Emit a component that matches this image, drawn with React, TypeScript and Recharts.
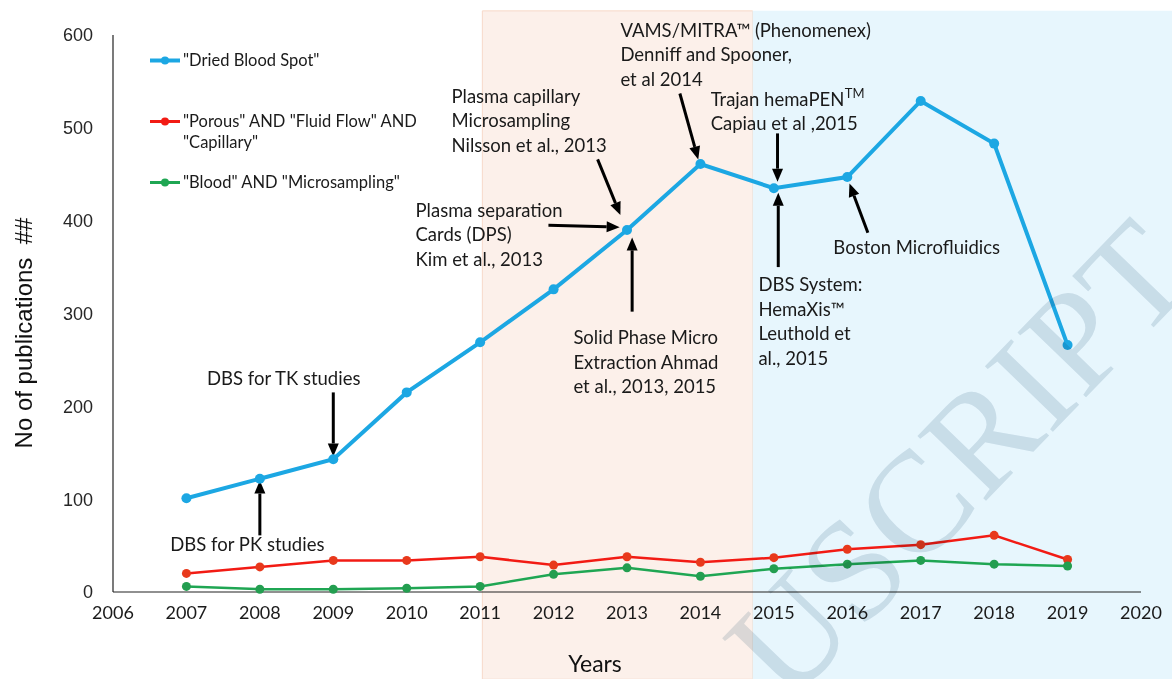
import React from "react";
import {
  LineChart,
  Line,
  XAxis,
  YAxis,
  ReferenceArea,
  ReferenceLine,
  ReferenceDot,
} from "recharts";

// publications per year
const years = [2007, 2008, 2009, 2010, 2011, 2012, 2013, 2014, 2015, 2016, 2017, 2018, 2019];
const driedBloodSpot = [101, 122, 143, 215, 269, 326, 390, 461, 435, 447, 529, 483, 266];
const porousFluidCapillary = [20, 27, 34, 34, 38, 29, 38, 32, 37, 46, 51, 61, 35];
const bloodMicrosampling = [6, 3, 3, 4, 6, 19, 26, 17, 25, 30, 34, 30, 28];

const xTicks = [2006, 2007, 2008, 2009, 2010, 2011, 2012, 2013, 2014, 2015, 2016, 2017, 2018, 2019, 2020];
const yTicks = [0, 100, 200, 300, 400, 500, 600];

const seriesNames = [
  '"Dried Blood Spot"',
  '"Porous" AND "Fluid Flow" AND "Capillary"',
  '"Blood" AND "Microsampling"',
];

// annotation labels (x in years, y in publications = left edge / first baseline)
const notes = [
  { x: 2006.78, y: 44, lines: ["DBS for PK studies"] },
  { x: 2007.28, y: 223, lines: ["DBS for TK studies"] },
  { x: 2010.12, y: 404, lines: ["Plasma separation", "Cards (DPS)", "Kim et al., 2013"] },
  { x: 2010.61, y: 527, lines: ["Plasma capillary", "Microsampling", "Nilsson et al., 2013"] },
  { x: 2012.27, y: 267, lines: ["Solid Phase Micro", "Extraction Ahmad", "et al., 2013, 2015"] },
  { x: 2012.91, y: 598, lines: ["VAMS/MITRA\u2122 (Phenomenex)", "Denniff and Spooner,", "et al 2014"] },
  { x: 2014.14, y: 524, lines: ["Trajan hemaPEN", "Capiau et al ,2015"], tm: true },
  { x: 2014.79, y: 324, lines: ["DBS System:", "HemaXis\u2122", "Leuthold et", "al., 2015"] },
  { x: 2015.81, y: 364, lines: ["Boston Microfluidics"] },
];

// arrows: tail -> head
const arrows = [
  { x1: 2008, y1: 61, x2: 2008, y2: 120 },
  { x1: 2009, y1: 215, x2: 2009, y2: 146 },
  { x1: 2011.93, y1: 395, x2: 2012.9, y2: 393 },
  { x1: 2012.6, y1: 466, x2: 2012.91, y2: 406 },
  { x1: 2013.07, y1: 302, x2: 2013.07, y2: 382 },
  { x1: 2013.72, y1: 537, x2: 2013.97, y2: 466 },
  { x1: 2015.05, y1: 494, x2: 2015.05, y2: 442 },
  { x1: 2015.06, y1: 350, x2: 2015.06, y2: 430 },
  { x1: 2016.28, y1: 387, x2: 2016.03, y2: 440 },
];

const data = years.map((year, i) => ({
  year,
  dbs: driedBloodSpot[i],
  porous: porousFluidCapillary[i],
  micro: bloodMicrosampling[i],
}));

const BLUE = "#1ca7e3";
const RED = "#f21b14";
const GREEN = "#1fa653";
const NOTE_FONT = "Lato, 'Open Sans', sans-serif";

const arrowShape = (p: any) => {
  const { x1, y1, x2, y2 } = p;
  const ang = Math.atan2(y2 - y1, x2 - x1);
  const head = 13;
  const half = 5.5;
  const bx = x2 - head * Math.cos(ang);
  const by = y2 - head * Math.sin(ang);
  const px = -Math.sin(ang) * half;
  const py = Math.cos(ang) * half;
  return (
    <g>
      <line x1={x1} y1={y1} x2={bx} y2={by} stroke="#000" strokeWidth={3} />
      <polygon points={`${x2},${y2} ${bx + px},${by + py} ${bx - px},${by - py}`} fill="#000" />
    </g>
  );
};

const noteShape = (lines: string[], tm?: boolean) => (p: any) => (
  <text x={p.cx} y={p.cy} fontFamily={NOTE_FONT} fontSize={18.5} fill="#1a1a1a">
    {lines.map((l, i) => (
      <tspan key={i} x={p.cx} dy={i === 0 ? 0 : 24.5}>
        {l}
      </tspan>
    ))}
    {tm && (
      <tspan x={p.cx + 134} y={p.cy - 8} fontSize={13}>
        TM
      </tspan>
    )}
  </text>
);

function SeriesLegend() {
  const colors = [BLUE, RED, GREEN];
  const tops = [0, 61, 122];
  return (
    <div style={{ position: "absolute", left: 149, top: 50, width: 290, height: 150 }}>
      {seriesNames.map((name, i) => (
        <div key={name} style={{ position: "absolute", left: 0, top: tops[i], display: "flex" }}>
          <svg width={34} height={21} style={{ flex: "none" }}>
            <line x1={1} y1={10.5} x2={31} y2={10.5} stroke={colors[i]} strokeWidth={i === 0 ? 4 : 3} />
            <circle cx={16} cy={10.5} r={4} fill={colors[i]} />
          </svg>
          <span
            style={{
              fontFamily: NOTE_FONT,
              fontSize: 16.5,
              lineHeight: "21px",
              color: "#1a1a1a",
              width: 240,
            }}
          >
            {name}
          </span>
        </div>
      ))}
    </div>
  );
}

const YTitle = () => {
  const cx = 23;
  const cy = 333;
  return (
    <text
      x={cx}
      y={cy}
      transform={`rotate(-90, ${cx}, ${cy})`}
      textAnchor="middle"
      dominantBaseline="central"
      fontFamily="'Liberation Sans', Arial, sans-serif"
      fontSize={24}
      fill="#111"
    >
      {"No of publications\u00a0 ##"}
    </text>
  );
};

const XTitle = (p: any) => {
  const vb = p.viewBox || { x: 113, y: 592, width: 1028 };
  return (
    <text
      x={vb.x + vb.width / 2 - 32}
      y={vb.y + 71}
      textAnchor="middle"
      dominantBaseline="central"
      fontFamily={NOTE_FONT}
      fontSize={23}
      fill="#111"
    >
      Years
    </text>
  );
};

export default function App() {
  return (
    <div
      style={{
        position: "absolute",
        left: 0,
        top: 0,
        width: 1172,
        height: 679,
        background: "#fff",
        overflow: "hidden",
      }}
    >
      <LineChart width={1172} height={679} data={data} margin={{ top: 35, right: 31, bottom: 0, left: 0 }}>
        <ReferenceArea
          x1={2011.03}
          x2={2014.71}
          y1={-94}
          y2={626}
          ifOverflow="visible"
          fill="#fcf0ea"
          fillOpacity={1}
          stroke="#f7d9c9"
          strokeWidth={1}
          zIndex={-200}
        />
        <ReferenceArea
          x1={2014.71}
          x2={2020.6}
          y1={-94}
          y2={626}
          ifOverflow="visible"
          fill="#e7f6fd"
          fillOpacity={1}
          stroke="none"
          zIndex={-200}
        />
        <XAxis
          dataKey="year"
          type="number"
          domain={[2006, 2020]}
          ticks={xTicks}
          interval={0}
          height={87}
          tickSize={0}
          tickMargin={14}
          axisLine={{ stroke: "#222", strokeWidth: 1.2 }}
          tick={{ fill: "#1a1a1a", fontSize: 18, fontFamily: NOTE_FONT }}
          label={<XTitle />}
        />
        <YAxis
          type="number"
          domain={[0, 600]}
          ticks={yTicks}
          interval={0}
          width={113}
          tickSize={0}
          tickMargin={20}
          axisLine={{ stroke: "#222", strokeWidth: 1.2 }}
          tick={{ fill: "#262626", fontSize: 18, fontFamily: "'Liberation Sans', Arial, sans-serif" }}
          label={<YTitle />}
        />
        <Line
          dataKey="porous"
          name={seriesNames[1]}
          stroke={RED}
          strokeWidth={2.5}
          dot={{ r: 4.5, fill: "#e8391c", stroke: "none" }}
          isAnimationActive={false}
        />
        <Line
          dataKey="micro"
          name={seriesNames[2]}
          stroke={GREEN}
          strokeWidth={2.5}
          dot={{ r: 4.5, fill: "#239e50", stroke: "none" }}
          isAnimationActive={false}
        />
        <Line
          dataKey="dbs"
          name={seriesNames[0]}
          stroke={BLUE}
          strokeWidth={4}
          dot={{ r: 5, fill: BLUE, stroke: "none" }}
          isAnimationActive={false}
        />
        {arrows.map((a, i) => (
          <ReferenceLine
            key={`arrow-${i}`}
            segment={[
              { x: a.x1, y: a.y1 },
              { x: a.x2, y: a.y2 },
            ]}
            ifOverflow="visible"
            shape={arrowShape}
          />
        ))}
        {notes.map((n, i) => (
          <ReferenceDot
            key={`note-${i}`}
            x={n.x}
            y={n.y}
            r={0}
            ifOverflow="visible"
            shape={noteShape(n.lines, n.tm)}
          />
        ))}
      </LineChart>
      <SeriesLegend />
      <svg
        width={1172}
        height={679}
        style={{ position: "absolute", left: 0, top: 0, pointerEvents: "none", mixBlendMode: "multiply" }}
      >
        <text
          x={788}
          y={706}
          transform="rotate(-46, 788, 706)"
          fontFamily="'Liberation Serif', 'DejaVu Serif', serif"
          fontSize={144}
          fill="#dde5ea"
        >
          USCRIPT
        </text>
      </svg>
    </div>
  );
}
